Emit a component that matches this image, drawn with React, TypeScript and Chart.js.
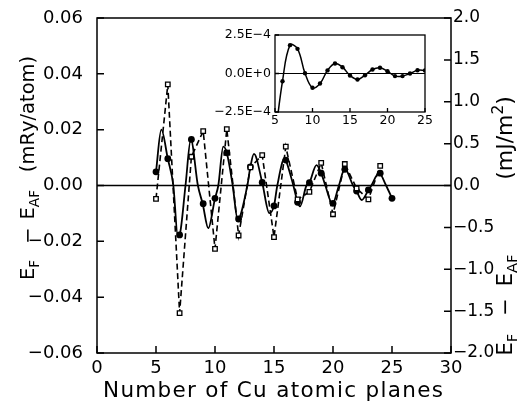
import React, { useEffect, useRef } from 'react';
import { Chart, registerables } from 'chart.js';

Chart.register(...registerables);

// ---- main plot data (E_F - E_AF, mRy/atom) ----
const planes = [5, 6, 7, 8, 9, 10, 11, 12, 13, 14, 15, 16, 17, 18, 19, 20, 21, 22, 23, 24, 25];
const circleEnergy = [0.0049, 0.0096, -0.0177, 0.0165, -0.0065, -0.0046, 0.0117, -0.012, 0.0067, 0.0011, -0.0073, 0.0091, -0.006, 0.001, 0.0044, -0.0064, 0.0058, -0.002, -0.0016, 0.0044, -0.0046];

const squarePlanes = [5, 6, 7, 8, 9, 10, 11, 12, 13, 14, 15, 16, 17, 18, 19, 20, 21, 22, 23, 24];
const squareEnergy = [-0.0048, 0.0362, -0.0457, 0.0103, 0.0195, -0.0227, 0.0202, -0.0179, 0.0065, 0.0109, -0.0185, 0.0139, -0.005, -0.0023, 0.0081, -0.0103, 0.0077, -0.001, -0.005, 0.007];

// fitted smooth curve
const fitPlanes = [5, 5.45, 6, 6.47, 6.85, 7, 7.5, 7.95, 8.55, 8.96, 9.43, 10, 10.28, 10.7, 11, 11.5, 11.92, 12.74, 13, 13.3, 14, 14.6, 15, 15.28, 15.9, 16, 16.64, 17, 17.2, 17.75, 18, 18.6, 19, 19.35, 19.95, 20.5, 21, 21.7, 22, 22.43, 23, 23.25, 23.9, 24.5, 25];
const fitEnergy = [0.0049, 0.02, 0.0096, 0, -0.0182, -0.0177, 0, 0.0165, 0, -0.0066, -0.0153, -0.0046, 0, 0.0139, 0.0117, 0, -0.0121, 0, 0.0067, 0.0113, 0.0011, -0.0099, -0.0073, 0, 0.0097, 0.0091, 0, -0.006, -0.0075, 0, 0.001, 0.0073, 0.0044, 0, -0.0066, 0, 0.006, 0, -0.002, -0.0052, -0.0016, 0, 0.0044, 0, -0.0046];

const zeroLineX = [0, 30];

// ---- inset data ----
const insetPlanes = [5, 6, 7, 8, 9, 10, 11, 12, 13, 14, 15, 16, 17, 18, 19, 20, 21, 22, 23, 24, 25];
const insetEnergy = [-4.2e-4, -0.5e-4, 1.84e-4, 1.6e-4, 0.02e-4, -0.93e-4, -0.65e-4, 0.2e-4, 0.65e-4, 0.41e-4, -0.13e-4, -0.39e-4, -0.11e-4, 0.26e-4, 0.37e-4, 0.15e-4, -0.17e-4, -0.17e-4, 0, 0.21e-4, 0.2e-4];
const insetZeroX = [5, 25];

// ---- ticks ----
const xTicksMain = [0, 5, 10, 15, 20, 25, 30];
const yTicksLeft = [-0.06, -0.04, -0.02, 0, 0.02, 0.04, 0.06];
const yTicksRight = [-2, -1.5, -1, -0.5, 0, 0.5, 1, 1.5, 2];
const insetXTicks = [5, 10, 15, 20, 25];
const insetYTicks = [-2.5e-4, 0, 2.5e-4];

const FONT = 'DejaVu Sans';
const minus = (s: string) => s.replace('-', '\u2212');

type Part = { t: string; sub?: boolean; sup?: boolean; gap?: number };
type RichItem = { parts: Part[]; x: number; y: number; angle: number; size: number; small?: number; spacing?: number };

// draws text char by char (manual letter spacing), optional sub/superscripts, centred on (x, y)
function drawRich(ctx: CanvasRenderingContext2D, item: RichItem) {
  const { parts, x, y, angle, size } = item;
  const sp = item.spacing ?? 0;
  const small = size * (item.small ?? 0.7);
  ctx.save();
  ctx.translate(x, y);
  ctx.rotate(angle);
  ctx.fillStyle = '#000';
  ctx.textAlign = 'left';
  ctx.textBaseline = 'alphabetic';
  const fontFor = (p: Part) => `${p.sub || p.sup ? small : size}px "${FONT}"`;
  const runs: { ch: string; font: string; dy: number; adv: number; pre: number }[] = [];
  const base = size * 0.36;
  for (const p of parts) {
    const font = fontFor(p);
    ctx.font = font;
    const dy = p.sub ? base + size * 0.27 : p.sup ? base - size * 0.42 : base;
    const chars = Array.from(p.t);
    chars.forEach((ch, i) => {
      runs.push({ ch, font, dy, adv: ctx.measureText(ch).width, pre: i === 0 ? p.gap ?? 0 : sp });
    });
  }
  let total = 0;
  runs.forEach((r, i) => { total += (i === 0 ? 0 : r.pre) + r.adv; });
  let cx = -total / 2;
  runs.forEach((r, i) => {
    if (i > 0) cx += r.pre;
    ctx.font = r.font;
    ctx.fillText(r.ch, cx, r.dy);
    cx += r.adv;
  });
  ctx.restore();
}

const richTitles = {
  id: 'richTitles',
  afterDraw(chart: any, _a: any, opts: any) {
    for (const it of opts.items || []) drawRich(chart.ctx, it);
  },
};

const frameTicks = {
  id: 'frameTicks',
  beforeDraw(chart: any, _a: any, opts: any) {
    if (!opts.fill) return;
    const { ctx, chartArea: a } = chart;
    ctx.save();
    ctx.fillStyle = opts.fill;
    ctx.fillRect(a.left, a.top, a.right - a.left, a.bottom - a.top);
    ctx.restore();
  },
  afterDatasetsDraw(chart: any, _a: any, opts: any) {
    const { ctx, chartArea: a } = chart;
    ctx.save();
    ctx.strokeStyle = '#000';
    ctx.lineWidth = opts.lineWidth;
    ctx.strokeRect(a.left, a.top, a.right - a.left, a.bottom - a.top);
    ctx.beginPath();
    for (const id of Object.keys(chart.scales)) {
      const s = chart.scales[id];
      for (const t of s.ticks) {
        const p = s.getPixelForValue(t.value);
        if (s.isHorizontal()) {
          ctx.moveTo(p, a.bottom);
          ctx.lineTo(p, a.bottom - opts.len);
        } else if (s.position === 'left') {
          ctx.moveTo(a.left, p);
          ctx.lineTo(a.left + opts.len, p);
        } else {
          ctx.moveTo(a.right, p);
          ctx.lineTo(a.right - opts.len, p);
        }
      }
    }
    ctx.stroke();
    ctx.restore();
  },
};

const pts = (xs: number[], ys: number[]) => xs.map((x, i) => ({ x, y: ys[i] }));

function axis(extra: any, tickVals: number[], fmt: (v: number) => string, size: number, padding: number, fit: (s: any) => void) {
  return {
    type: 'linear',
    grid: { display: false, drawTicks: false },
    border: { display: false },
    ticks: { color: '#000', font: { family: FONT, size }, padding, autoSkip: false, maxRotation: 0, callback: (v: number) => fmt(v) },
    afterBuildTicks: (s: any) => { s.ticks = tickVals.map((value) => ({ value })); },
    afterFit: (s: any) => {
      fit(s);
      s.paddingTop = 0;
      s.paddingBottom = 0;
      s.paddingLeft = 0;
      s.paddingRight = 0;
    },
    ...extra,
  };
}

export default function App() {
  const mainRef = useRef<HTMLCanvasElement>(null);
  const insetRef = useRef<HTMLCanvasElement>(null);

  useEffect(() => {
    const main = new Chart(mainRef.current as HTMLCanvasElement, {
      type: 'scatter',
      data: {
        datasets: [
          {
            data: pts(zeroLineX, [0, 0]),
            showLine: true, borderColor: '#000', borderWidth: 1.3, pointRadius: 0,
          },
          {
            data: pts(squarePlanes, squareEnergy),
            showLine: true, borderColor: '#000', borderWidth: 1.6, borderDash: [6, 3.5],
            pointStyle: 'rect', pointRadius: 3.2, pointBackgroundColor: '#fff', pointBorderColor: '#000', pointBorderWidth: 1.3,
          },
          {
            data: pts(fitPlanes, fitEnergy),
            showLine: true, borderColor: '#000', borderWidth: 1.8, pointRadius: 0, cubicInterpolationMode: 'monotone',
          },
          {
            data: pts(planes, circleEnergy),
            showLine: false, pointStyle: 'circle', pointRadius: 3.4, pointBackgroundColor: '#000', pointBorderColor: '#000', pointBorderWidth: 0,
          },
        ] as any,
      },
      options: {
        animation: false, responsive: false, devicePixelRatio: 1,
        layout: { padding: { top: 18, left: 0, right: 0, bottom: 0 } },
        plugins: {
          legend: { display: false }, tooltip: { enabled: false },
          frameTicks: { lineWidth: 1.5, len: 7 },
          richTitles: {
            items: [
              { parts: [{ t: 'Number of Cu atomic planes' }], x: 273, y: 389.5, angle: 0, size: 21.5, spacing: 1.3 },
              {
                parts: [{ t: 'E' }, { t: 'F', sub: true }, { t: '\u2212', gap: 16 }, { t: 'E', gap: 8 }, { t: 'AF', sub: true }],
                x: 27, y: 235, angle: -Math.PI / 2, size: 19.5,
              },
              { parts: [{ t: '(mRy/atom)' }], x: 27, y: 114, angle: -Math.PI / 2, size: 19.5 },
              {
                parts: [{ t: 'E' }, { t: 'F', sub: true }, { t: '\u2212', gap: 18 }, { t: 'E', gap: 12 }, { t: 'AF', sub: true }],
                x: 504, y: 305, angle: -Math.PI / 2, size: 21,
              },
              { parts: [{ t: '(mJ/m' }, { t: '2', sup: true }, { t: ')' }], x: 504, y: 138, angle: -Math.PI / 2, size: 22 },
            ],
          },
        } as any,
        scales: {
          x: axis({ position: 'bottom', min: 0, max: 30 }, xTicksMain, (v) => String(v), 18, 5, (s) => { s.height = 51; }),
          y: axis({ position: 'left', min: -0.06, max: 0.06 }, yTicksLeft, (v) => minus(v.toFixed(2)), 18, 14, (s) => { s.width = 97; }),
          y2: axis({ position: 'right', min: -2, max: 2 }, yTicksRight, (v) => minus(v.toFixed(1)), 17, 2, (s) => { s.width = 74; }),
        } as any,
      },
      plugins: [frameTicks, richTitles],
    });

    const inset = new Chart(insetRef.current as HTMLCanvasElement, {
      type: 'scatter',
      data: {
        datasets: [
          {
            data: pts(insetZeroX, [0, 0]),
            showLine: true, borderColor: '#000', borderWidth: 1.1, pointRadius: 0,
          },
          {
            data: pts(insetPlanes, insetEnergy),
            showLine: true, borderColor: '#000', borderWidth: 1.5, tension: 0.4,
            pointStyle: 'circle', pointRadius: 2.2, pointBackgroundColor: '#000', pointBorderWidth: 0,
          },
        ] as any,
      },
      options: {
        animation: false, responsive: false, devicePixelRatio: 1,
        layout: { padding: { top: 10, left: 0, right: 15, bottom: 0 } },
        plugins: {
          legend: { display: false }, tooltip: { enabled: false },
          frameTicks: { lineWidth: 1.3, len: 4, fill: '#fff' },
        } as any,
        scales: {
          x: axis({ position: 'bottom', min: 5, max: 25 }, insetXTicks, (v) => String(v), 12.5, 1, (s) => { s.height = 18; }),
          y: axis({ position: 'left', min: -2.5e-4, max: 2.5e-4 }, insetYTicks, (v) => minus(minus(v.toExponential(1).toUpperCase())), 12.5, 4, (s) => { s.width = 75; }),
        } as any,
      },
      plugins: [frameTicks],
    });

    return () => {
      main.destroy();
      inset.destroy();
    };
  }, []);

  return (
    <div style={{ position: 'absolute', left: 0, top: 0, width: 525, height: 404, background: '#fff' }}>
      <canvas ref={mainRef} width={525} height={404} style={{ position: 'absolute', left: 0, top: 0, width: 525, height: 404 }} />
      <canvas ref={insetRef} width={240} height={105} style={{ position: 'absolute', left: 200, top: 25, width: 240, height: 105 }} />
    </div>
  );
}
